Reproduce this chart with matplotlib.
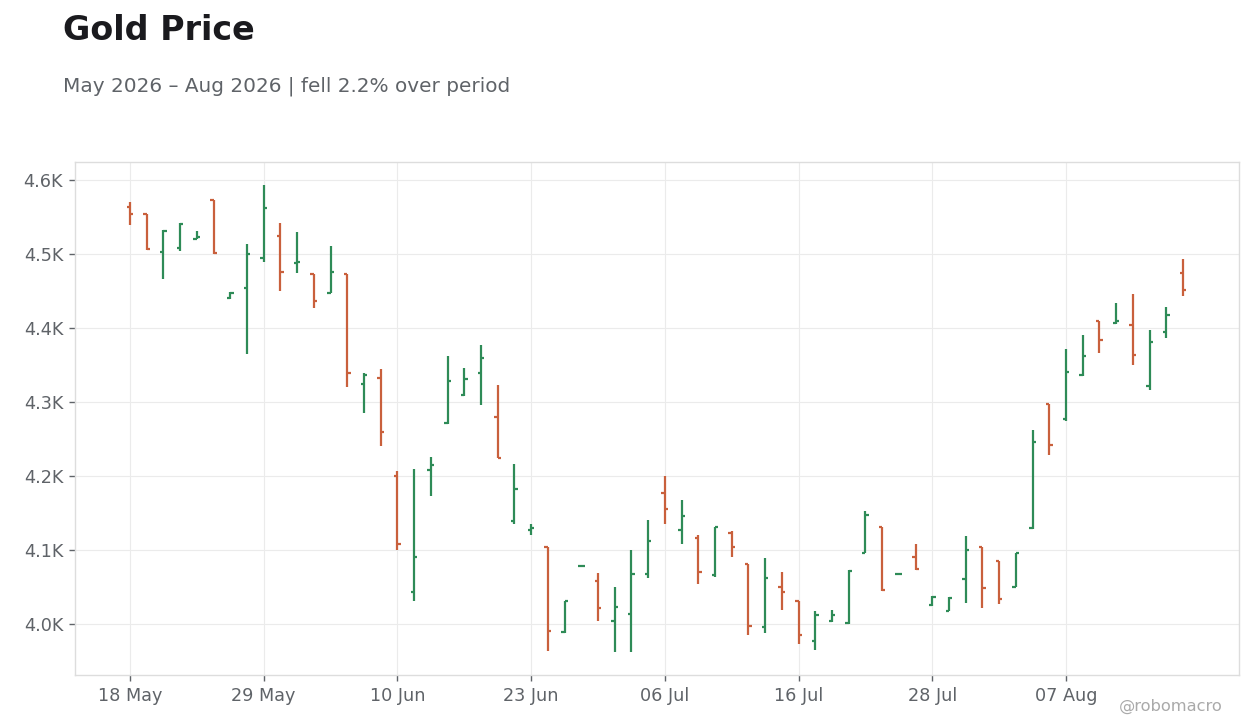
import numpy as np
import pandas as pd
import matplotlib
matplotlib.use("Agg")
import matplotlib.pyplot as plt
from matplotlib.ticker import FuncFormatter

plt.rcParams['font.family'] = ['DejaVu Sans']

# trading days (NYSE calendar, May-Aug 2026)
dates = pd.bdate_range("2026-05-18", periods=64, freq="C",
                       holidays=["2026-05-25", "2026-06-19", "2026-07-03"])

opens = [4564, 4555, 4503, 4509, 4521, 4574, 4441, 4455, 4495, 4525,
         4488, 4473, 4448, 4474, 4325, 4333, 4201, 4044, 4209, 4272,
         4310, 4340, 4280, 4140, 4128, 4105, 3989, 4079, 4058, 4004,
         4014, 4068, 4177, 4127, 4117, 4067, 4123, 4082, 3997, 4050,
         4031, 3977, 4004, 4002, 4096, 4131, 4068.5, 4091, 4026, 4018,
         4061, 4104, 4085, 4050, 4130, 4298, 4277, 4337, 4410, 4407,
         4405, 4322, 4395, 4475]
highs = [4571, 4555, 4533, 4542, 4531, 4574, 4449, 4514, 4593, 4542,
         4530, 4473, 4511, 4474, 4340, 4345, 4207, 4210, 4226, 4362,
         4346, 4377, 4323, 4217, 4135, 4105, 4031, 4079.5, 4070, 4050,
         4100, 4141, 4200, 4168, 4120, 4132, 4126, 4082, 4090, 4071,
         4031, 4018, 4019, 4073, 4153, 4132, 4069, 4109, 4038, 4037,
         4119, 4104, 4085, 4097, 4262, 4298, 4372, 4391, 4410, 4434,
         4446, 4398, 4429, 4494]
lows = [4540, 4506, 4466, 4505, 4520, 4501, 4440, 4365, 4489, 4451,
        4475, 4428, 4447, 4320, 4286, 4241, 4101, 4032, 4174, 4270,
        4309, 4297, 4225, 4136, 4120, 3964, 3988, 4078.5, 4004, 3963,
        3963, 4063, 4135, 4108, 4054, 4064, 4091, 3986, 3988, 4020,
        3974, 3965, 4003, 4001, 4096, 4045, 4068, 4074, 4025, 4018,
        4029, 4022, 4028, 4050, 4129, 4229, 4275, 4336, 4366, 4406,
        4351, 4316, 4387, 4443]
closes = [4554, 4507, 4532, 4541, 4523, 4502, 4448, 4501, 4562, 4476,
          4490, 4437, 4476, 4339, 4337, 4260, 4109, 4091, 4215, 4329,
          4331, 4360, 4225, 4183, 4130, 3991, 4031, 4079, 4022, 4024,
          4068, 4113, 4156, 4147, 4071, 4132, 4105, 3998, 4062, 4044,
          3986, 4013, 4012, 4072, 4148, 4046, 4068.5, 4075, 4037, 4036,
          4100, 4049, 4034, 4097, 4246, 4242, 4341, 4363, 4384, 4410,
          4364, 4382, 4418, 4452]

UP = "#2e8b57"
DOWN = "#c9603c"
GREY = "#5f6368"

fig = plt.figure(figsize=(12.6, 7.28), dpi=100)
ax = fig.add_axes([0.0595, 0.0728, 0.9238, 0.7047])

x = np.arange(len(dates))
w = 0.2
for i in x:
    c = UP if closes[i] >= opens[i] else DOWN
    ax.vlines(i, lows[i], highs[i], color=c, lw=1.6)
    ax.hlines(opens[i], i - w, i, color=c, lw=1.6)
    ax.hlines(closes[i], i, i + w, color=c, lw=1.6)

ax.set_xlim(-3.29, 66.35)
ax.set_ylim(3931.5, 4624.7)

ticks = x[::8]
ax.set_xticks(ticks)
ax.set_xticklabels([dates[i].strftime("%d %b") for i in ticks])
ax.set_yticks([4000, 4100, 4200, 4300, 4400, 4500, 4600])
ax.yaxis.set_major_formatter(FuncFormatter(lambda v, p: f"{v/1000:.1f}K"))

ax.grid(True, color="#ebebeb", lw=0.8)
ax.set_axisbelow(True)
for s in ax.spines.values():
    s.set_color("#dddddd")
    s.set_linewidth(1)
ax.tick_params(colors=GREY, labelsize=12.7, length=4, width=1, pad=4.5)

fig.text(0.05, 0.945, "Gold Price", fontsize=24, fontweight="bold",
         color="#1a1a1e", va="baseline")
fig.text(0.05, 0.874, "May 2026 \u2013 Aug 2026 | fell 2.2% over period",
         fontsize=14.4, color=GREY, va="baseline")
fig.text(0.97, 0.024, "@robomacro", fontsize=11.7, color="#aaaaaa",
         ha="right", va="baseline")

fig.savefig("out.png", dpi=100)
